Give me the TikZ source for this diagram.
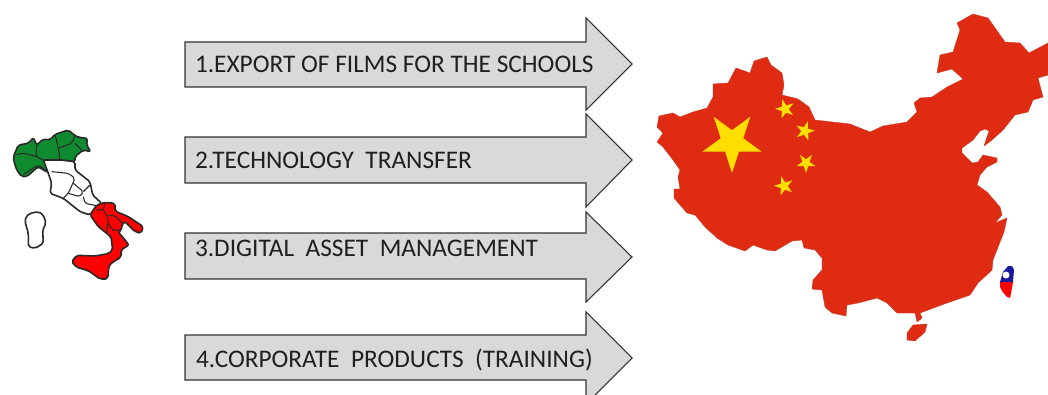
\documentclass[tikz,border=0pt]{standalone}
\usepackage{fontspec}
\setmainfont{Carlito}
\definecolor{cnred}{HTML}{DE2B12}
\definecolor{cnstar}{HTML}{FFDE00}
\definecolor{arrowgrey}{HTML}{D9D9D9}
\definecolor{itgreen}{HTML}{0F8A2E}
\definecolor{itline}{HTML}{2A2A2A}
\definecolor{twblue}{HTML}{1A1A9C}
\tikzset{
  arrowshape/.style={draw=black!80,line width=0.8pt,fill=arrowgrey,line join=miter},
  arrowtext/.style={anchor=base west,inner sep=0pt,outer sep=0pt,font=\fontsize{19}{21}\selectfont,text=black!88},
  cnland/.style={fill=cnred,draw=cnred!80!gray,line width=0.3pt,line join=round},
  itregion/.style={draw=itline,line width=1.2pt,line join=round,rounded corners=1.5pt},
  itborder/.style={draw=itline,line width=0.8pt,line join=round,rounded corners=1.5pt},
}
\newcommand{\flagstar}[4]{% x y radius rotation
  \fill[cnstar,shift={(#1,#2)},rotate=#4]
    (90:#3) -- (126:#3*0.382) -- (162:#3) -- (198:#3*0.382) -- (234:#3) -- (270:#3*0.382)
    -- (306:#3) -- (342:#3*0.382) -- (18:#3) -- (54:#3*0.382) -- cycle;}
\newcommand{\bigarrow}[5]{% body top, body bottom, head top, head bottom, tip y
  \draw[arrowshape] (185,#1) -- (586,#1) -- (586,#3) -- (632,#5) -- (586,#4) -- (586,#2) -- (185,#2) -- cycle;}
\begin{document}
\begin{tikzpicture}[x=0.75pt,y=-0.75pt]
\useasboundingbox (0,0) rectangle (1048,395);
\begin{scope}
\clip (0,0) rectangle (1048,395);
\bigarrow{42}{87}{18}{110}{64}
\bigarrow{137}{183}{114}{207}{160}
\bigarrow{233}{279}{212}{302}{257}
\bigarrow{335}{380}{312}{404}{358}
\end{scope}
\node[arrowtext] (t1) at (195,73) {1.EXPORT OF FILMS FOR THE SCHOOLS};
\node[arrowtext] (t2) at (195,169) {2.TECHNOLOGY\ \ TRANSFER};
\node[arrowtext] (t3) at (195,256) {3.DIGITAL\ \ ASSET\ \ MANAGEMENT};
\node[arrowtext] (t4) at (196,367) {4.CORPORATE\ \ PRODUCTS\ \ (TRAINING)};
% China
\draw[cnland] (657,127) -- (659,116) -- (673,113) -- (680,117) -- (693,112) -- (707,108) -- (713,97) -- (713,84)
 -- (728,83) -- (736,68) -- (750,73) -- (754,61) -- (767,57) -- (771,65) -- (782,73) -- (784,85) -- (782,95)
 -- (798,99) -- (809,107) -- (815,120) -- (850,124) -- (870,132) -- (883,126) -- (907,122) -- (917,112)
 -- (914,103) -- (920,98) -- (932,97) -- (947,87) -- (963,79) -- (952,69) -- (937,73) -- (940,55) -- (953,52)
 -- (960,30) -- (957,23) -- (973,14) -- (988,18) -- (1005,42) -- (1020,43) -- (1029,53) -- (1048,43)
 -- (1048,75) -- (1038,78) -- (1043,97) -- (1033,100) -- (1028,112) -- (1015,115) -- (1003,130) -- (992,140) -- (984,146)
 -- (989,131) -- (985,129) -- (980,131) -- (973,140) -- (962,148) -- (962,153) -- (972,163) -- (978,162) -- (983,155)
 -- (997,158) -- (997,162) -- (987,167) -- (980,175) -- (977,185) -- (987,192) -- (1000,207) -- (1002,215) -- (995,223) -- (1007,218)
 -- (1004,232) -- (1000,242) -- (993,260) -- (992,270) -- (978,283) -- (970,295) -- (947,303) -- (920,313)
 -- (922,318) -- (917,322) -- (915,313) -- (897,313) -- (887,303) -- (877,298) -- (858,303) -- (847,305)
 -- (846,316) -- (832,313) -- (825,307) -- (822,290) -- (812,289) -- (813,280) -- (822,270) -- (822,258)
 -- (815,250) -- (804,248) -- (802,240) -- (792,241) -- (775,251) -- (767,250) -- (753,245) -- (745,251)
 -- (728,245) -- (717,238) -- (705,227) -- (695,215) -- (687,213) -- (674,198) -- (674,189) -- (680,189)
 -- (678,177) -- (680,170) -- (673,160) -- (663,147) -- (657,142) -- (663,133) -- cycle;
\draw[cnland] (907,333) -- (913,325) -- (927,324) -- (925,332) -- (915,341) -- (907,340) -- cycle;
\flagstar{732}{142}{31}{0}
\flagstar{785}{109}{10}{-20}
\flagstar{805}{131}{10}{20}
\flagstar{806}{163}{10}{0}
\flagstar{784}{186}{10}{-20}
% Taiwan
\fill[red] (1000,282) -- (1013,282) -- (1012,288) -- (1010,298) -- (1007,297) -- (1002,291) -- (1000,287) -- cycle;
\fill[twblue] (1000,282) -- (1003,272) -- (1008,266) -- (1012,266) -- (1014,270) -- (1013,282) -- cycle;
\fill[white] (1006,275) circle (3.5);
% Italy
\begin{scope}[shift={(0,115)},scale=1/3]
\filldraw[itregion,fill=itgreen] (40,125) -- (55,90) -- (85,85) -- (100,68) -- (110,90) -- (130,72) -- (150,75)
 -- (165,58) -- (205,45) -- (225,62) -- (240,68) -- (262,70) -- (260,90) -- (272,110) -- (250,105) -- (225,125)
 -- (225,140) -- (180,135) -- (130,135) -- (150,175) -- (130,165) -- (115,155) -- (80,185) -- (65,185) -- (50,165)
 -- (42,140) -- cycle;
\draw[itborder] (110,90) -- (108,125) -- (130,135);
\draw[itborder] (108,125) -- (75,115) -- (50,118);
\draw[itborder] (165,58) -- (175,100) -- (180,135);
\draw[itborder] (175,100) -- (215,85) -- (225,62);
\draw[itborder] (225,85) -- (245,105);
\draw[itborder] (70,178) -- (115,150) -- (150,175);
\filldraw[itregion,fill=white] (130,135) -- (180,135) -- (225,140) -- (225,165) -- (270,200) -- (278,240) -- (305,265)
 -- (270,300) -- (240,290) -- (190,250) -- (150,235) -- (155,205) -- (145,175) -- cycle;
\draw[itborder] (155,170) -- (205,175) -- (225,190) -- (205,235) -- (190,250);
\draw[itborder] (205,235) -- (240,245) -- (250,230) -- (220,205);
\draw[itborder] (250,230) -- (270,210);
\draw[itborder] (250,245) -- (255,265) -- (290,272);
\filldraw[itregion,fill=white] (78,305) -- (90,295) -- (115,290) -- (130,300) -- (138,325) -- (128,345) -- (130,385)
 -- (105,400) -- (85,395) -- (85,355) -- (75,320) -- cycle;
\end{scope}
\begin{scope}[shift={(65,195)},scale=1/3]
\filldraw[itregion,fill=red] (75,60) -- (95,30) -- (120,22) -- (150,25) -- (150,48) -- (190,65) -- (235,95) -- (228,115)
 -- (210,110) -- (180,80) -- (170,90) -- (170,105) -- (160,112) -- (172,125) -- (192,150) -- (168,165) -- (168,187)
 -- (142,202) -- (132,212) -- (128,252) -- (105,252) -- (70,227) -- (35,217) -- (20,200) -- (35,181) -- (90,183)
 -- (130,176) -- (143,165) -- (138,125) -- (125,115) -- (100,95) -- cycle;
\draw[itborder] (95,45) -- (115,45) -- (120,22);
\draw[itborder] (115,45) -- (130,70) -- (125,113);
\draw[itborder] (130,62) -- (150,62) -- (172,85);
\draw[itborder] (130,85) -- (138,100) -- (150,108) -- (170,103);
\end{scope}
\end{tikzpicture}
\end{document}
